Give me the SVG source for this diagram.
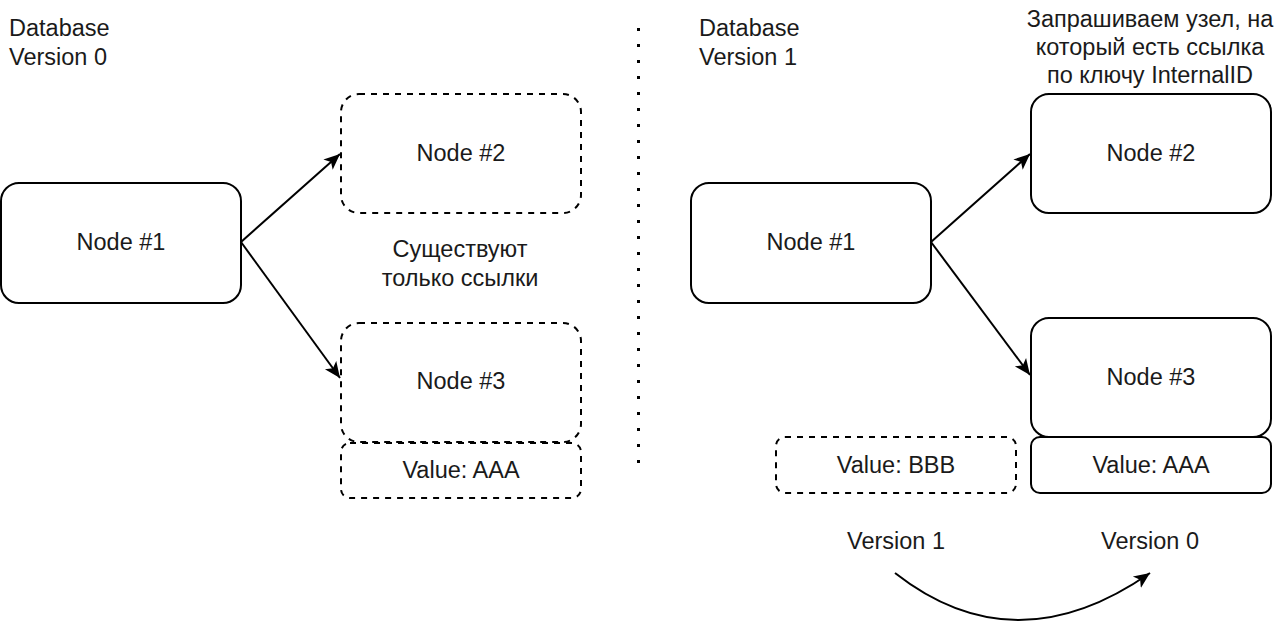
<svg xmlns="http://www.w3.org/2000/svg" width="1288" height="622" viewBox="0 0 1288 622">
<style>
.box{fill:#fff;stroke:#000;stroke-width:2}
.dash{stroke-dasharray:6 6}
.t{font-family:"Liberation Sans",Arial,sans-serif;font-size:23.5px;fill:#1a1a1a;text-anchor:middle}
.l{text-anchor:start}
.c{fill:none;stroke:#000;stroke-width:2}
</style>
<defs>
<marker id="arr" viewBox="-16 -8 17 16" refX="0" refY="0" markerWidth="17" markerHeight="16" markerUnits="userSpaceOnUse" orient="auto">
<path d="M0,0 L-16,-7 L-12,0 L-16,7 Z" fill="#000"/>
</marker>
</defs>
<g id="labels">
<text class="t l" x="9" y="36">Database</text>
<text class="t l" x="9" y="65">Version 0</text>
<text class="t l" x="699" y="36">Database</text>
<text class="t l" x="699" y="65">Version 1</text>
<text class="t" x="460" y="257">Существуют</text>
<text class="t" x="460" y="286">только ссылки</text>
<text class="t" x="1150" y="27">Запрашиваем узел, на</text>
<text class="t" x="1150" y="55">который есть ссылка</text>
<text class="t" x="1150" y="83">по ключу InternalID</text>
<text class="t" x="896" y="549">Version 1</text>
<text class="t" x="1150" y="549">Version 0</text>
</g>
<g id="divider">
<line x1="638.5" y1="28" x2="638.5" y2="466" stroke="#000" stroke-width="3" stroke-dasharray="3 13"/>
</g>
<g id="connectors">
<line class="c" x1="241" y1="242" x2="340" y2="154" marker-end="url(#arr)"/>
<line class="c" x1="241" y1="242" x2="340" y2="378" marker-end="url(#arr)"/>
<line class="c" x1="931" y1="242" x2="1030" y2="154" marker-end="url(#arr)"/>
<line class="c" x1="931" y1="242" x2="1030" y2="375" marker-end="url(#arr)"/>
<path class="c" d="M895,573 Q1015,667 1150,573" marker-end="url(#arr)"/>
</g>
<g id="l-node1"><rect class="box" x="1" y="183" width="240" height="120" rx="18"/><text class="t" x="121" y="250">Node #1</text></g>
<g id="l-node2"><rect class="box dash" x="341" y="94" width="240" height="119" rx="18"/><text class="t" x="461" y="161">Node #2</text></g>
<g id="l-node3"><rect class="box dash" x="341" y="323" width="240" height="119" rx="18"/><text class="t" x="461" y="389">Node #3</text></g>
<g id="l-value"><rect class="box dash" x="341" y="443" width="240" height="55" rx="9"/><text class="t" x="461" y="478">Value: AAA</text></g>
<g id="r-node1"><rect class="box" x="691" y="183" width="240" height="120" rx="18"/><text class="t" x="811" y="250">Node #1</text></g>
<g id="r-node2"><rect class="box" x="1031" y="94" width="240" height="119" rx="18"/><text class="t" x="1151" y="161">Node #2</text></g>
<g id="r-node3"><rect class="box" x="1031" y="318" width="240" height="119" rx="18"/><text class="t" x="1151" y="385">Node #3</text></g>
<g id="r-value-aaa"><rect class="box" x="1031" y="437" width="240" height="56" rx="9"/><text class="t" x="1151" y="473">Value: AAA</text></g>
<g id="r-value-bbb"><rect class="box dash" x="776" y="437" width="240" height="56" rx="9"/><text class="t" x="896" y="473">Value: BBB</text></g>
</svg>
